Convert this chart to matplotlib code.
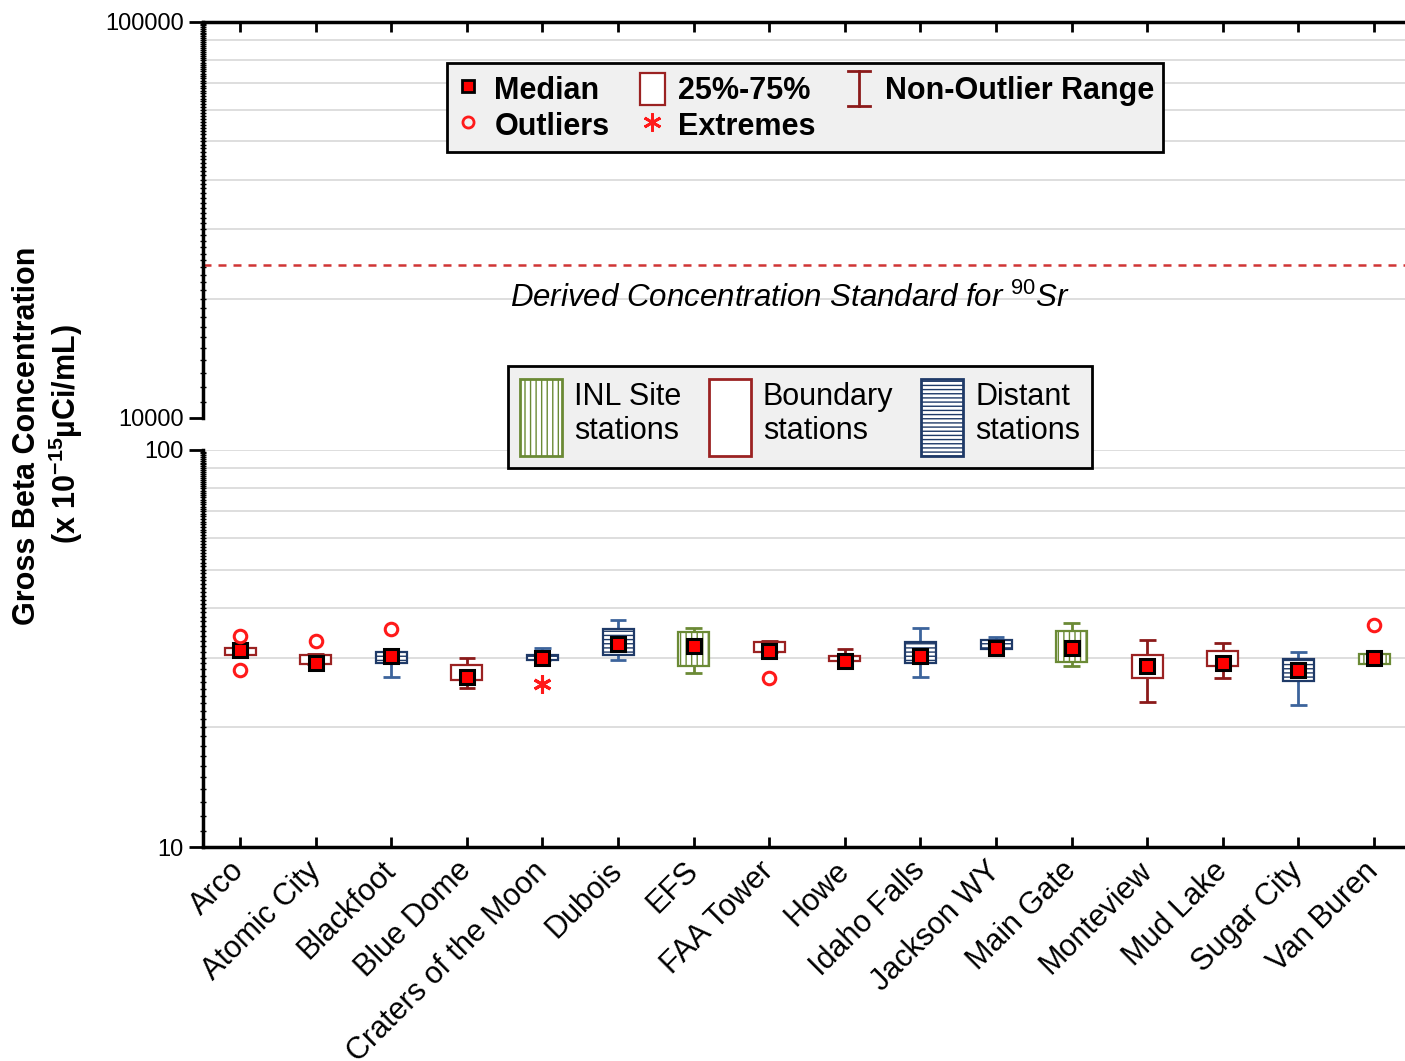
import numpy as np
import matplotlib
matplotlib.use("Agg")
import matplotlib.pyplot as plt
from matplotlib.lines import Line2D
from matplotlib.patches import Patch
from matplotlib.legend_handler import HandlerBase

plt.rcParams['font.family'] = ['Liberation Sans', 'DejaVu Sans']
plt.rcParams['mathtext.fontset'] = 'custom'
plt.rcParams['mathtext.rm'] = 'Liberation Sans'
plt.rcParams['mathtext.it'] = 'Liberation Sans:italic'
plt.rcParams['mathtext.bf'] = 'Liberation Sans:bold'
plt.rcParams['hatch.linewidth'] = 1.0

# Station data (x 10^-15 uCi/mL)
stations = ['Arco', 'Atomic City', 'Blackfoot', 'Blue Dome', 'Craters of the Moon',
            'Dubois', 'EFS', 'FAA Tower', 'Howe', 'Idaho Falls', 'Jackson WY',
            'Main Gate', 'Monteview', 'Mud Lake', 'Sugar City', 'Van Buren']
groups = ['boundary', 'boundary', 'distant', 'boundary', 'distant', 'distant', 'inl',
          'boundary', 'boundary', 'distant', 'distant', 'inl', 'boundary', 'boundary',
          'distant', 'inl']
median = [31.3, 29.1, 30.3, 26.8, 30.0, 32.5, 32.0, 31.2, 29.4, 30.2, 31.8, 31.7, 28.5, 29.0, 27.9, 30.0]
q1 = [30.4, 28.9, 29.0, 26.3, 29.5, 30.4, 28.5, 31.0, 29.4, 29.0, 31.6, 29.3, 26.6, 28.5, 26.2, 28.9]
q3 = [31.7, 30.4, 31.0, 28.7, 30.4, 35.4, 34.7, 32.9, 30.3, 32.9, 33.2, 34.9, 30.4, 31.2, 29.8, 30.7]
whisk_lo = [30.4, 28.9, 26.8, 25.2, 29.5, 29.5, 27.4, 31.0, 29.4, 26.8, 31.6, 28.5, 23.2, 26.6, 22.8, 28.9]
whisk_hi = [31.7, 30.7, 31.0, 29.9, 31.8, 37.2, 35.6, 33.1, 31.5, 35.6, 33.9, 36.6, 33.2, 32.7, 31.0, 30.7]
outlier_station = ['Arco', 'Arco', 'Atomic City', 'Blackfoot', 'FAA Tower', 'Van Buren']
outlier_value = [34.0, 27.9, 33.1, 35.4, 26.7, 36.2]
extreme_station = ['Craters of the Moon']
extreme_value = [25.8]
dcs_sr90 = 24300

# styles per station type
edge_col = {'inl': '#6b8a35', 'boundary': '#9b2222', 'distant': '#1f3a68'}
whisk_col = {'inl': '#6b8a35', 'boundary': '#8b1a1a', 'distant': '#3c649c'}
hatch_of = {'inl': '|||', 'boundary': None, 'distant': '----'}
grid_col = '#d8d8d8'


class IBeamHandler(HandlerBase):
    def create_artists(self, legend, orig_handle, xdescent, ydescent, width, height, fontsize, trans):
        xc = width / 2 - xdescent
        y0 = -ydescent - 0.05 * height
        y1 = height - ydescent + 0.05 * height
        cap = 0.45 * width
        col = orig_handle.get_color()
        arts = [Line2D([xc, xc], [y0, y1]),
                Line2D([xc - cap, xc + cap], [y0, y0]),
                Line2D([xc - cap, xc + cap], [y1, y1])]
        for a in arts:
            a.set_color(col)
            a.set_linewidth(2)
            a.set_transform(trans)
        return arts


fig = plt.figure(figsize=(14.05, 10.61), dpi=100)
W, H = 1405, 1061
left, right = 203, 1405
ax_top = fig.add_axes([left / W, 1 - 418 / H, (right - left) / W, 396 / H])
ax_bot = fig.add_axes([left / W, 1 - 847 / H, (right - left) / W, 397 / H])

x = np.arange(len(stations))
pos = dict(zip(stations, x))

for ax, lo, hi in [(ax_top, 1e4, 1e5), (ax_bot, 10, 100)]:
    ax.set_yscale('log')
    ax.set_ylim(lo, hi)
    ax.set_xlim(-0.49, len(stations) - 0.59)
    for k in range(2, 11):
        ax.axhline(lo * k, color=grid_col, lw=1.2, zorder=0)
    ax.set_yticks([lo, hi])
    ax.set_yticklabels([str(int(lo)), str(int(hi))])
    ax.set_yticks(np.arange(lo * 1.1, hi, lo * 0.1), minor=True)
    ax.yaxis.set_minor_formatter(plt.NullFormatter())
    ax.tick_params(axis='y', which='major', direction='out', length=10, width=2, labelsize=17, pad=4)
    ax.tick_params(axis='y', which='minor', direction='inout', length=5, width=1)
    ax.spines['right'].set_visible(False)
    ax.spines['left'].set_linewidth(2.5)
    ax.set_facecolor('none')

ax_top.spines['bottom'].set_visible(False)
ax_top.spines['top'].set_linewidth(2.5)
ax_top.set_xticks(x)
ax_top.tick_params(axis='x', which='both', bottom=False, top=True, labelbottom=False,
                   direction='in', length=7, width=2)
ax_bot.spines['top'].set_visible(False)
ax_bot.spines['bottom'].set_linewidth(2.5)
ax_bot.set_xticks(x)
ax_bot.set_xticklabels(stations, rotation=45, ha='right', va='center',
                       rotation_mode='anchor', fontsize=22)
ax_bot.tick_params(axis='x', direction='in', length=7, width=2, pad=14)

# DCS line and label
ax_top.axhline(dcs_sr90, color='#d03535', lw=1.8, ls=(0, (3.2, 2.8)), zorder=2)
ax_top.text(7.27, 2e4, r'Derived Concentration Standard for $^{90}$Sr',
            fontsize=22.5, style='italic', ha='center', va='center')

# boxes
for i, g in enumerate(groups):
    ax_bot.bar(x[i], q3[i] - q1[i], bottom=q1[i], width=0.41, color='white',
               edgecolor=edge_col[g], hatch=hatch_of[g], linewidth=1.6, zorder=3)
    ax_bot.vlines(x[i], q3[i], whisk_hi[i], color=whisk_col[g], lw=2, zorder=2)
    ax_bot.vlines(x[i], whisk_lo[i], q1[i], color=whisk_col[g], lw=2, zorder=2)
    ax_bot.hlines([whisk_lo[i], whisk_hi[i]], x[i] - 0.11, x[i] + 0.11,
                  color=whisk_col[g], lw=2, zorder=2)
ax_bot.plot(x, median, ls='none', marker='s', ms=10.5, mfc='#ff0000', mec='black', mew=2.2, zorder=5)
ax_bot.plot([pos[s] for s in outlier_station], outlier_value, ls='none', marker='o', ms=9,
            mfc='none', mec='#ff1a1a', mew=2.2, zorder=5)
ax_bot.plot([pos[s] for s in extreme_station], extreme_value, ls='none', marker=(6, 2, 0),
            ms=13, color='#ff1a1a', mew=2.2, zorder=5)

# legend 1: box plot elements
h_med = Line2D([], [], ls='none', marker='s', ms=9, mfc='#ff0000', mec='black', mew=2)
h_out = Line2D([], [], ls='none', marker='o', ms=8, mfc='none', mec='#ff1a1a', mew=2)
h_box = Patch(facecolor='white', edgecolor='#9b2222', lw=1.6)
h_ext = Line2D([], [], ls='none', marker=(6, 2, 0), ms=13, color='#ff1a1a', mew=2)
h_nor = Line2D([], [], color='#8b1a1a')
leg1 = fig.legend([h_med, h_out, h_box, h_ext, h_nor],
                  ['Median', 'Outliers', '25%-75%', 'Extremes', 'Non-Outlier Range'],
                  ncol=3, loc='center', bbox_to_anchor=(805 / W, 1 - 107.5 / H),
                  prop={'weight': 'bold', 'size': 22}, handler_map={h_nor: IBeamHandler()},
                  handlelength=0.8, handleheight=1.25, handletextpad=0.45,
                  columnspacing=1.0, labelspacing=0.1, borderpad=0.3,
                  fancybox=False, framealpha=1, facecolor='#f0f0f0', edgecolor='black')
leg1.get_frame().set_linewidth(2)

# legend 2: station types
h_types = [Patch(facecolor='white', edgecolor=edge_col[g], hatch=hatch_of[g], lw=2)
           for g in ['inl', 'boundary', 'distant']]
leg2 = fig.legend(h_types, ['INL Site\nstations', 'Boundary\nstations', 'Distant\nstations'],
                  ncol=3, loc='center', bbox_to_anchor=(800 / W, 1 - 417 / H),
                  fontsize=22, handlelength=1.37, handleheight=3.5, handletextpad=0.4,
                  columnspacing=0.9, borderpad=0.4,
                  fancybox=False, framealpha=1, facecolor='#f0f0f0', edgecolor='black')
leg2.get_frame().set_linewidth(2)

# y label
fig.text(27 / W, 1 - 436 / H, 'Gross Beta Concentration', rotation=90, fontsize=22,
         fontweight='bold', ha='center', va='center')
fig.text(66 / W, 1 - 434 / H, r'(x 10$^{\mathbf{-15}}$µCi/mL)', rotation=90, fontsize=22,
         fontweight='bold', ha='center', va='center')

fig.savefig('out.png', dpi=100)
